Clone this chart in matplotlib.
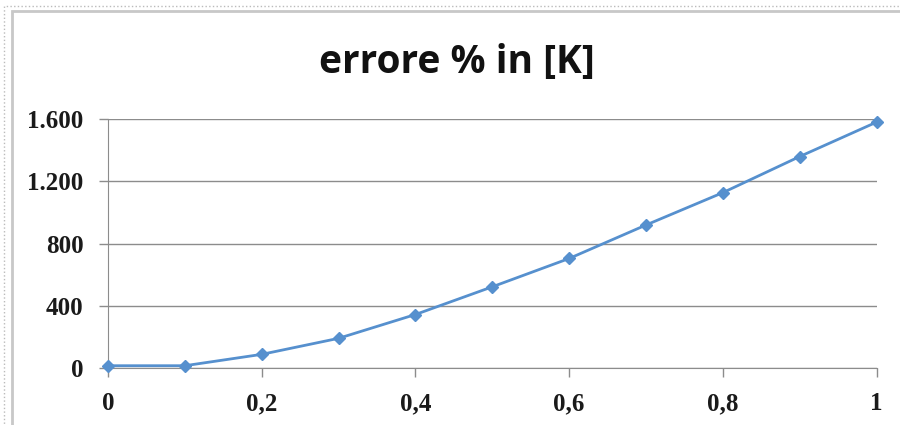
import matplotlib.pyplot as plt
from matplotlib.patches import Rectangle

x_vals = [0, 0.1, 0.2, 0.3, 0.4, 0.5, 0.6, 0.7, 0.8, 0.9, 1.0]
errore = [15, 15, 88, 191, 344, 522, 704, 919, 1127, 1359, 1580]

y_ticks = [0, 400, 800, 1200, 1600]
y_labels = ["0", "400", "800", "1.200", "1.600"]
x_ticks = [0, 0.2, 0.4, 0.6, 0.8, 1.0]
x_labels = ["0", "0,2", "0,4", "0,6", "0,8", "1"]

fig = plt.figure(figsize=(9, 4.25), dpi=100)

# chart frame like the spreadsheet one
fig.patches.append(Rectangle((0.004, -0.01), 1.0, 0.995, transform=fig.transFigure,
                             facecolor="white", edgecolor="#bbbbbb", linewidth=1,
                             linestyle=":", zorder=-6))
fig.patches.append(Rectangle((0.013, -0.01), 1.0, 0.985, transform=fig.transFigure,
                             facecolor="white", edgecolor="#c8c8c8", linewidth=2,
                             zorder=-5))

ax = fig.add_axes([0.12, 0.134, 0.854, 0.586])
ax.patch.set_alpha(0)
ax.plot(x_vals, errore, color="#5690CE", linewidth=2, marker="D", markersize=6,
        clip_on=False, zorder=3)

ax.set_xlim(0, 1)
ax.set_ylim(0, 1600)
ax.set_yticks(y_ticks)
ax.set_yticklabels(y_labels)
ax.set_xticks(x_ticks)
ax.set_xticklabels(x_labels)

ax.grid(axis="y", color="#8c8c8c", linewidth=1)
ax.set_axisbelow(True)
for s in ["top", "right"]:
    ax.spines[s].set_visible(False)
for s in ["left", "bottom"]:
    ax.spines[s].set_color("#8c8c8c")
ax.tick_params(axis="both", color="#8c8c8c", length=6.5, width=1, pad=11)
for lab in ax.get_xticklabels() + ax.get_yticklabels():
    lab.set_family("Liberation Serif")
    lab.set_weight("bold")
    lab.set_fontsize(18)
    lab.set_color("#1a1a1a")

fig.text(0.508, 0.852, "errore % in [K]", ha="center", va="center",
         fontsize=28, fontweight="bold", family="Open Sans", color="#111111")

fig.savefig("out.png", dpi=100)
